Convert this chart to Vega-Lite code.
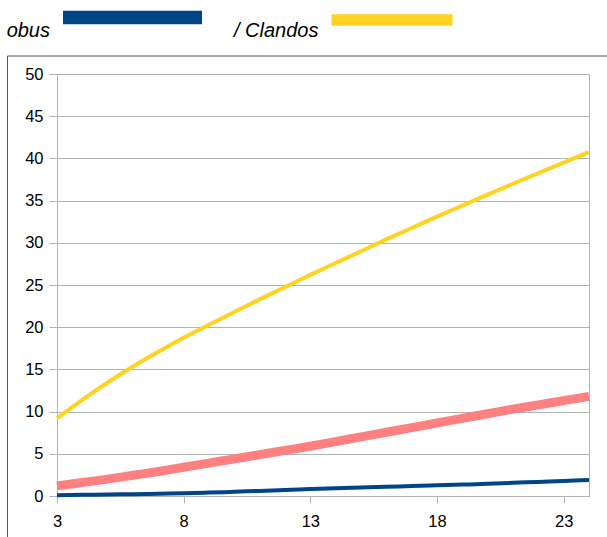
{
  "$schema": "https://vega.github.io/schema/vega-lite/v6.json",
  "width": 532,
  "height": 422,
  "autosize": {"type": "none"},
  "padding": {"left": 57, "top": 74, "right": 18, "bottom": 41},
  "background": "white",
  "config": {
    "view": {"stroke": "#b3b3b3", "strokeWidth": 1},
    "font": "Liberation Sans"
  },
  "layer": [
    {
      "data": {"values": [{"frame": 1}]},
      "mark": {"type": "rect", "filled": false, "color": "#555555", "strokeWidth": 1, "clip": false},
      "encoding": {
        "x": {"datum": 1.046, "type": "quantitative", "scale": {"domain": [3, 24], "nice": false, "zero": false}},
        "x2": {"datum": 27},
        "y": {"datum": 52.13, "type": "quantitative", "scale": {"domain": [0, 50], "nice": false}},
        "y2": {"datum": -10}
      }
    },
    {
      "data": {
        "values": [
          {"x": 3, "v": 9.2, "s": "Clandos"}, {"x": 4, "v": 11.4, "s": "Clandos"}, {"x": 5, "v": 13.45, "s": "Clandos"},
          {"x": 6, "v": 15.35, "s": "Clandos"}, {"x": 7, "v": 17.1, "s": "Clandos"}, {"x": 8, "v": 18.75, "s": "Clandos"},
          {"x": 9, "v": 20.3, "s": "Clandos"}, {"x": 10, "v": 21.8, "s": "Clandos"}, {"x": 11, "v": 23.3, "s": "Clandos"},
          {"x": 12, "v": 24.75, "s": "Clandos"}, {"x": 13, "v": 26.2, "s": "Clandos"}, {"x": 14, "v": 27.6, "s": "Clandos"},
          {"x": 15, "v": 29.0, "s": "Clandos"}, {"x": 16, "v": 30.4, "s": "Clandos"}, {"x": 17, "v": 31.75, "s": "Clandos"},
          {"x": 18, "v": 33.1, "s": "Clandos"}, {"x": 19, "v": 34.4, "s": "Clandos"}, {"x": 20, "v": 35.7, "s": "Clandos"},
          {"x": 21, "v": 37.0, "s": "Clandos"}, {"x": 22, "v": 38.25, "s": "Clandos"}, {"x": 23, "v": 39.5, "s": "Clandos"},
          {"x": 24, "v": 40.75, "s": "Clandos"},
          {"x": 3, "v": 1.2, "s": "Série 1"}, {"x": 4, "v": 1.6, "s": "Série 1"}, {"x": 5, "v": 2.0, "s": "Série 1"},
          {"x": 6, "v": 2.45, "s": "Série 1"}, {"x": 7, "v": 2.9, "s": "Série 1"}, {"x": 8, "v": 3.4, "s": "Série 1"},
          {"x": 9, "v": 3.9, "s": "Série 1"}, {"x": 10, "v": 4.4, "s": "Série 1"}, {"x": 11, "v": 4.9, "s": "Série 1"},
          {"x": 12, "v": 5.4, "s": "Série 1"}, {"x": 13, "v": 5.9, "s": "Série 1"}, {"x": 14, "v": 6.45, "s": "Série 1"},
          {"x": 15, "v": 7.0, "s": "Série 1"}, {"x": 16, "v": 7.55, "s": "Série 1"}, {"x": 17, "v": 8.1, "s": "Série 1"},
          {"x": 18, "v": 8.65, "s": "Série 1"}, {"x": 19, "v": 9.2, "s": "Série 1"}, {"x": 20, "v": 9.75, "s": "Série 1"},
          {"x": 21, "v": 10.3, "s": "Série 1"}, {"x": 22, "v": 10.8, "s": "Série 1"}, {"x": 23, "v": 11.3, "s": "Série 1"},
          {"x": 24, "v": 11.8, "s": "Série 1"},
          {"x": 3, "v": 0.1, "s": "obus"}, {"x": 4, "v": 0.14, "s": "obus"}, {"x": 5, "v": 0.18, "s": "obus"},
          {"x": 6, "v": 0.22, "s": "obus"}, {"x": 7, "v": 0.27, "s": "obus"}, {"x": 8, "v": 0.32, "s": "obus"},
          {"x": 9, "v": 0.4, "s": "obus"}, {"x": 10, "v": 0.5, "s": "obus"}, {"x": 11, "v": 0.6, "s": "obus"},
          {"x": 12, "v": 0.7, "s": "obus"}, {"x": 13, "v": 0.82, "s": "obus"}, {"x": 14, "v": 0.93, "s": "obus"},
          {"x": 15, "v": 1.02, "s": "obus"}, {"x": 16, "v": 1.1, "s": "obus"}, {"x": 17, "v": 1.18, "s": "obus"},
          {"x": 18, "v": 1.26, "s": "obus"}, {"x": 19, "v": 1.35, "s": "obus"}, {"x": 20, "v": 1.45, "s": "obus"},
          {"x": 21, "v": 1.56, "s": "obus"}, {"x": 22, "v": 1.67, "s": "obus"}, {"x": 23, "v": 1.78, "s": "obus"},
          {"x": 24, "v": 1.9, "s": "obus"}
        ]
      },
      "encoding": {
        "x": {
          "field": "x", "type": "quantitative",
          "scale": {"domain": [3, 24], "nice": false, "zero": false},
          "axis": {
            "title": null, "values": [3, 8, 13, 18, 23], "grid": false, "labelFlush": false,
            "domainColor": "#b3b3b3", "tickColor": "#b3b3b3", "tickSize": 7, "labelPadding": 10,
            "labelFont": "Liberation Sans", "labelFontSize": 16.5, "labelColor": "#000000"
          }
        },
        "y": {
          "field": "v", "type": "quantitative",
          "scale": {"domain": [0, 50], "nice": false},
          "axis": {
            "title": null, "values": [0, 5, 10, 15, 20, 25, 30, 35, 40, 45, 50], "grid": true,
            "gridColor": "#b3b3b3", "gridOpacity": 1, "labelFlush": false,
            "domainColor": "#b3b3b3", "tickColor": "#b3b3b3", "tickSize": 8, "labelPadding": 6,
            "labelFont": "Liberation Sans", "labelFontSize": 16.5, "labelColor": "#000000"
          }
        },
        "color": {
          "field": "s", "type": "nominal",
          "scale": {"domain": ["Série 1", "obus", "Clandos"], "range": ["#ff8080", "#004586", "#ffd320"]},
          "legend": {
            "values": ["obus", "Clandos"],
            "orient": "none", "legendX": 6, "legendY": -126, "direction": "horizontal",
            "title": null, "padding": 0,
            "symbolType": "M-1,-0.098H1V0.098H-1Z", "symbolSize": 19321, "symbolStrokeWidth": 0,
            "labelAlign": "right", "labelOffset": -152, "labelBaseline": "alphabetic",
            "labelFont": "Liberation Sans", "labelFontStyle": "italic", "labelFontSize": 20,
            "labelColor": "#000000", "labelLimit": 300, "columnPadding": 31.5,
            "labelExpr": "datum.value == 'Clandos' ? '/ Clandos' : datum.label",
            "encode": {
              "symbols": {
                "update": {
                  "fill": {"scale": "color", "field": "value"},
                  "stroke": {"value": "transparent"},
                  "shape": {"signal": "datum.value == 'Clandos' ? 'M-1,-0.046H0.741V0.118H-1Z' : 'M-1,-0.098H1V0.098H-1Z'"},
                  "strokeWidth": {"value": 0},
                  "opacity": {"value": 1}
                }
              },
              "labels": {"update": {"dy": {"value": 19.5}}}
            }
          }
        }
      },
      "layer": [
        {
          "transform": [{"filter": "datum.s == 'Série 1'"}],
          "mark": {"type": "line", "interpolate": "monotone", "strokeWidth": 9}
        },
        {
          "transform": [{"filter": "datum.s == 'obus'"}],
          "mark": {"type": "line", "interpolate": "monotone", "strokeWidth": 4}
        },
        {
          "transform": [{"filter": "datum.s == 'Clandos'"}],
          "mark": {"type": "line", "interpolate": "monotone", "strokeWidth": 4}
        }
      ]
    }
  ]
}
